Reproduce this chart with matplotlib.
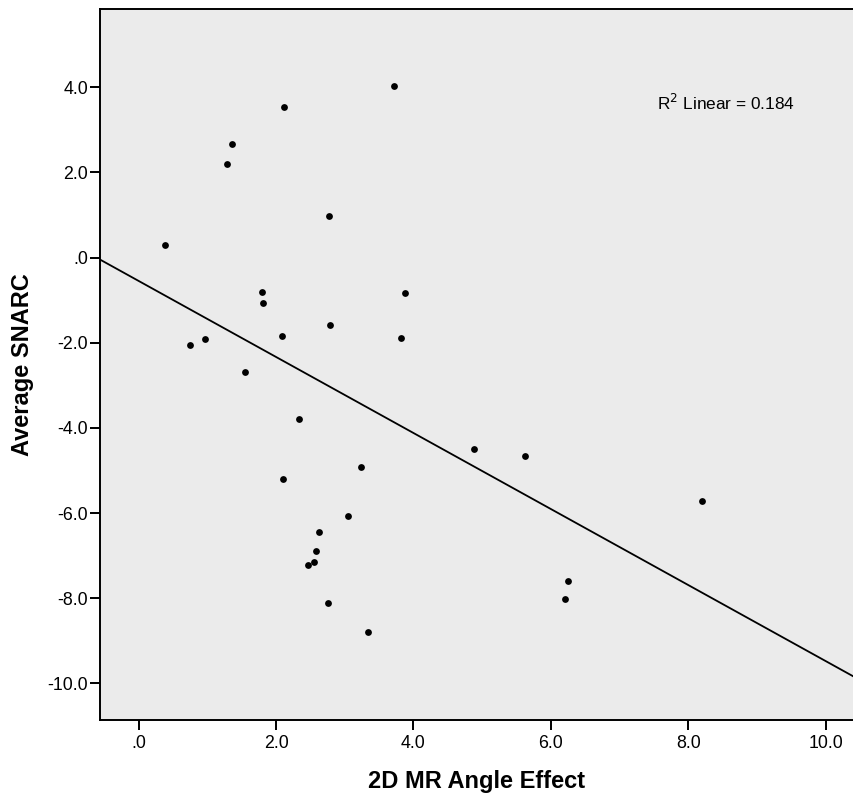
import numpy as np
import matplotlib
matplotlib.use("Agg")
import matplotlib.pyplot as plt

# 2D mental-rotation angle effect vs. average SNARC effect, one point per participant
angle_effect = [3.71, 2.11, 1.36, 1.28, 2.77, 0.39, 1.79, 1.81, 3.87, 2.78,
                2.09, 3.82, 0.75, 0.96, 1.55, 2.34, 3.24, 2.10, 3.04, 2.62,
                2.58, 2.55, 2.47, 2.76, 3.34, 4.88, 5.62, 8.20, 6.25, 6.21]
avg_snarc = [4.03, 3.53, 2.68, 2.19, 0.97, 0.29, -0.80, -1.06, -0.83, -1.59,
             -1.85, -1.89, -2.06, -1.92, -2.69, -3.80, -4.91, -5.21, -6.08, -6.44,
             -6.90, -7.14, -7.22, -8.12, -8.79, -4.50, -4.66, -5.72, -7.60, -8.02]

# reported goodness of fit for the linear model
r2_linear = 0.184

x_ticks = [0, 2, 4, 6, 8, 10]
y_ticks = [4, 2, 0, -2, -4, -6, -8, -10]

def fmt(v):
    s = f"{v:.1f}"
    return s[1:] if s.startswith("0") else s

plt.rcParams["font.family"] = ["Liberation Sans", "DejaVu Sans"]

fig = plt.figure(figsize=(8.54, 7.95), dpi=100)
ax = fig.add_axes([100 / 854, 1 - 720 / 795, 1 - 100 / 854, (720 - 9) / 795])
ax.set_facecolor("#ebebeb")

x = np.array(angle_effect)
y = np.array(avg_snarc)
ax.scatter(x, y, s=24, color="black", zorder=3, linewidths=0)

xlim = (-0.563, 10.412)
ylim = (-10.86, 5.84)
slope, intercept = np.polyfit(x, y, 1)
xs = np.array(xlim)
ax.plot(xs, intercept + slope * xs, color="black", lw=1.3, zorder=2)

ax.set_xlim(*xlim)
ax.set_ylim(*ylim)
ax.set_xticks(x_ticks)
ax.set_xticklabels([fmt(v) for v in x_ticks])
ax.set_yticks(y_ticks)
ax.set_yticklabels([fmt(v) for v in y_ticks])

for side in ("left", "top", "bottom"):
    ax.spines[side].set_linewidth(1.4)
    ax.spines[side].set_color("black")
ax.spines["right"].set_visible(False)

ax.tick_params(axis="both", direction="out", length=7, width=1.4,
               labelsize=12.8, colors="black")
ax.tick_params(axis="x", pad=4)
ax.tick_params(axis="y", pad=1.5)

ax.set_xlabel("2D MR Angle Effect", fontsize=17, fontweight="bold", labelpad=13)
ax.set_ylabel("Average SNARC", fontsize=17, fontweight="bold", labelpad=10)

ax.text(657 / 854, 1 - 103 / 795, r"R$^2$ Linear = " + f"{r2_linear:.3f}",
        transform=fig.transFigure, fontsize=12.4, va="center", ha="left")

fig.savefig("out.png", dpi=100)
